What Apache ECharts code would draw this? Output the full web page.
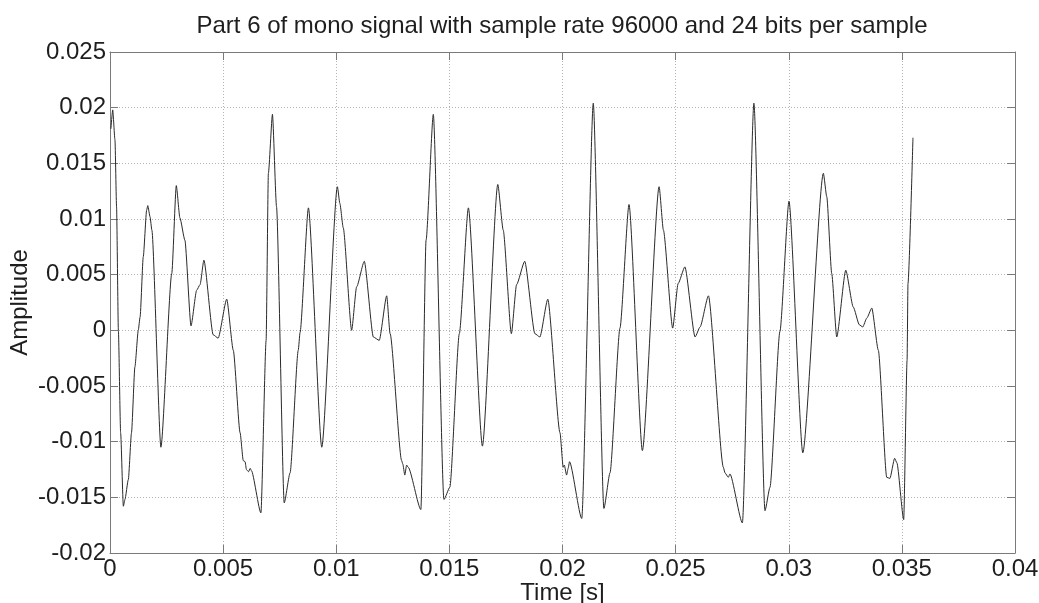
<!DOCTYPE html>
<html>
<head>
<meta charset="utf-8">
<script src="https://cdn.jsdelivr.net/npm/echarts@6/dist/echarts.min.js"></script>
<style>
html,body{margin:0;padding:0;background:#fff;}
#chart{width:1039px;height:603px;}
</style>
</head>
<body>
<div id="chart"></div>
<script>
const titleText = 'Part 6 of mono signal with sample rate 96000 and 24 bits per sample';
const xName = 'Time [s]';
const yName = 'Amplitude';
const xTickLabels = ['0','0.005','0.01','0.015','0.02','0.025','0.03','0.035','0.04'];
const yTickLabels = ['-0.02','-0.015','-0.01','-0.005','0','0.005','0.01','0.015','0.02','0.025'];
const xMin = 0, xMax = 0.04, xStep = 0.005;
const yMin = -0.02, yMax = 0.025, yStep = 0.005;

const times = [
0.00004,0.00012,0.00022,0.00029,0.00037,0.00047,0.00059,0.00066,0.00081,0.00095,0.00110,0.00125,0.00133,0.00147,0.00162,0.00167,0.00177,0.00185,0.00225,
0.00273,0.00293,0.00309,0.00331,0.00358,0.00383,0.00398,0.00415,
0.00456,0.00478,0.00516,0.00545,0.00575,0.00589,0.00597,0.00603,0.00612,0.00620,
0.00625,0.00667,0.00690,0.00700,0.00718,0.00736,0.00770,0.00796,0.00832,0.00840,
0.00877,0.00936,0.01005,0.01016,0.01031,0.01068,0.01090,0.01124,0.01164,0.01190,
0.01223,0.01238,0.01289,0.01294,0.01303,0.01311,0.01318,0.01374,0.01397,0.01429,
0.01476,0.01502,0.01544,0.01584,0.01646,0.01714,0.01738,0.01774,0.01797,0.01833,
0.01878,0.01900,0.01935,0.01989,0.02003,0.02008,0.02018,0.02025,0.02031,0.02085,
0.02136,0.02183,0.02210,0.02254,0.02294,0.02353,0.02427,0.02446,0.02487,0.02511,
0.02541,0.02586,0.02608,0.02645,0.02711,0.02718,0.02733,0.02740,0.02795,0.02846,
0.02895,0.02917,0.02961,0.03001,0.03062,0.03153,0.03168,0.03190,0.03212,0.03252,
0.03285,0.03312,0.03327,0.03345,0.03367,0.03396,0.03433,0.03447,0.03468,0.03478,
0.03508,0.03523,0.03527,0.03549
];
const amps = [
0.0181,0.0198,0.0171,0.0111,0.0000,-0.0092,-0.0158,-0.0152,-0.0134,-0.0092,-0.0033,0.0000,0.0012,0.0066,0.0108,0.0112,0.0102,0.0090,-0.0105,
0.0051,0.0130,0.0101,0.0081,0.0004,0.0036,0.0041,0.0063,
-0.0004,-0.0007,0.0028,-0.0018,-0.0092,-0.0117,-0.0118,-0.0125,-0.0127,-0.0124,
-0.0126,-0.0164,-0.0009,0.0141,0.0194,0.0111,-0.0155,-0.0128,-0.0018,-0.0002,
0.0110,-0.0105,0.0129,0.0114,0.0092,0.0000,0.0039,0.0062,-0.0006,-0.0009,
0.0031,-0.0003,-0.0117,-0.0120,-0.0130,-0.0121,-0.0123,-0.0161,0.0081,0.0194,
-0.0152,-0.0141,-0.0003,0.0110,-0.0104,0.0131,0.0090,-0.0003,0.0041,0.0062,
-0.0003,-0.0006,0.0028,-0.0092,-0.0123,-0.0121,-0.0130,-0.0124,-0.0118,-0.0169,
0.0204,-0.0160,-0.0128,0.0002,0.0113,-0.0108,0.0129,0.0090,0.0002,0.0042,
0.0057,-0.0006,0.0003,0.0031,-0.0123,-0.0128,-0.0132,-0.0129,-0.0173,0.0204,
-0.0162,-0.0141,-0.0001,0.0116,-0.0110,0.0141,0.0120,0.0051,-0.0006,0.0054,
0.0021,0.0005,0.0003,0.0011,0.0020,-0.0018,-0.0132,-0.0133,-0.0115,-0.0119,
-0.0170,-0.0027,0.0042,0.0173
];

const FONT = "'Liberation Sans', Arial, sans-serif";
const AXIS_COLOR = '#7a7a7a';
const TEXT_COLOR = '#1e1e1e';
const FS = 24;

const chart = echarts.init(document.getElementById('chart'), null, {renderer: 'canvas'});
const seriesData = times.map((t, i) => [t, amps[i]]);

const xFmt = v => xTickLabels[Math.round((v - xMin) / xStep)];
const yFmt = v => yTickLabels[Math.round((v - yMin) / yStep)];

const baseTick = {show: true, inside: true, length: 8, lineStyle: {color: AXIS_COLOR, width: 1}};
const baseLine = {show: true, onZero: false, lineStyle: {color: AXIS_COLOR, width: 1}};
const gridLine = {show: true, lineStyle: {color: '#b4b4b4', width: 1, type: [1, 2]}};

chart.setOption({
  animation: false,
  backgroundColor: '#ffffff',
  title: {
    text: titleText,
    left: 557, top: 9, textAlign: 'center',
    textStyle: {fontFamily: FONT, fontSize: FS, fontWeight: 'normal', color: TEXT_COLOR}
  },
  grid: {left: 110, right: 24, top: 52, bottom: 50, containLabel: false, outerBoundsMode: 'none'},
  xAxis: [
    {
      type: 'value', min: xMin, max: xMax, interval: xStep, position: 'bottom',
      name: xName, nameLocation: 'middle', nameGap: 28, nameMoveOverlap: false,
      nameTextStyle: {fontFamily: FONT, fontSize: FS, color: TEXT_COLOR},
      axisLine: baseLine, axisTick: baseTick,
      axisLabel: {formatter: xFmt, fontFamily: FONT, fontSize: FS, color: TEXT_COLOR, margin: 4, showMinLabel: true, showMaxLabel: true},
      splitLine: gridLine
    },
    {
      type: 'value', min: xMin, max: xMax, interval: xStep, position: 'top',
      axisLine: baseLine, axisTick: baseTick, axisLabel: {show: false}, splitLine: {show: false}
    }
  ],
  yAxis: [
    {
      type: 'value', min: yMin, max: yMax, interval: yStep, position: 'left',
      name: yName, nameLocation: 'middle', nameGap: 78, nameRotate: 90, nameMoveOverlap: false,
      nameTextStyle: {fontFamily: FONT, fontSize: FS, color: TEXT_COLOR},
      axisLine: baseLine, axisTick: baseTick,
      axisLabel: {formatter: yFmt, fontFamily: FONT, fontSize: FS, color: TEXT_COLOR, margin: 4, showMinLabel: true, showMaxLabel: true},
      splitLine: gridLine
    },
    {
      type: 'value', min: yMin, max: yMax, interval: yStep, position: 'right',
      axisLine: baseLine, axisTick: baseTick, axisLabel: {show: false}, splitLine: {show: false}
    }
  ],
  series: [{
    type: 'line', xAxisIndex: 0, yAxisIndex: 0,
    data: seriesData, showSymbol: false, symbol: 'none',
    smooth: 0.2, smoothMonotone: 'x',
    lineStyle: {color: '#2a2a2a', width: 1},
    silent: true
  }]
});
</script>
</body>
</html>
